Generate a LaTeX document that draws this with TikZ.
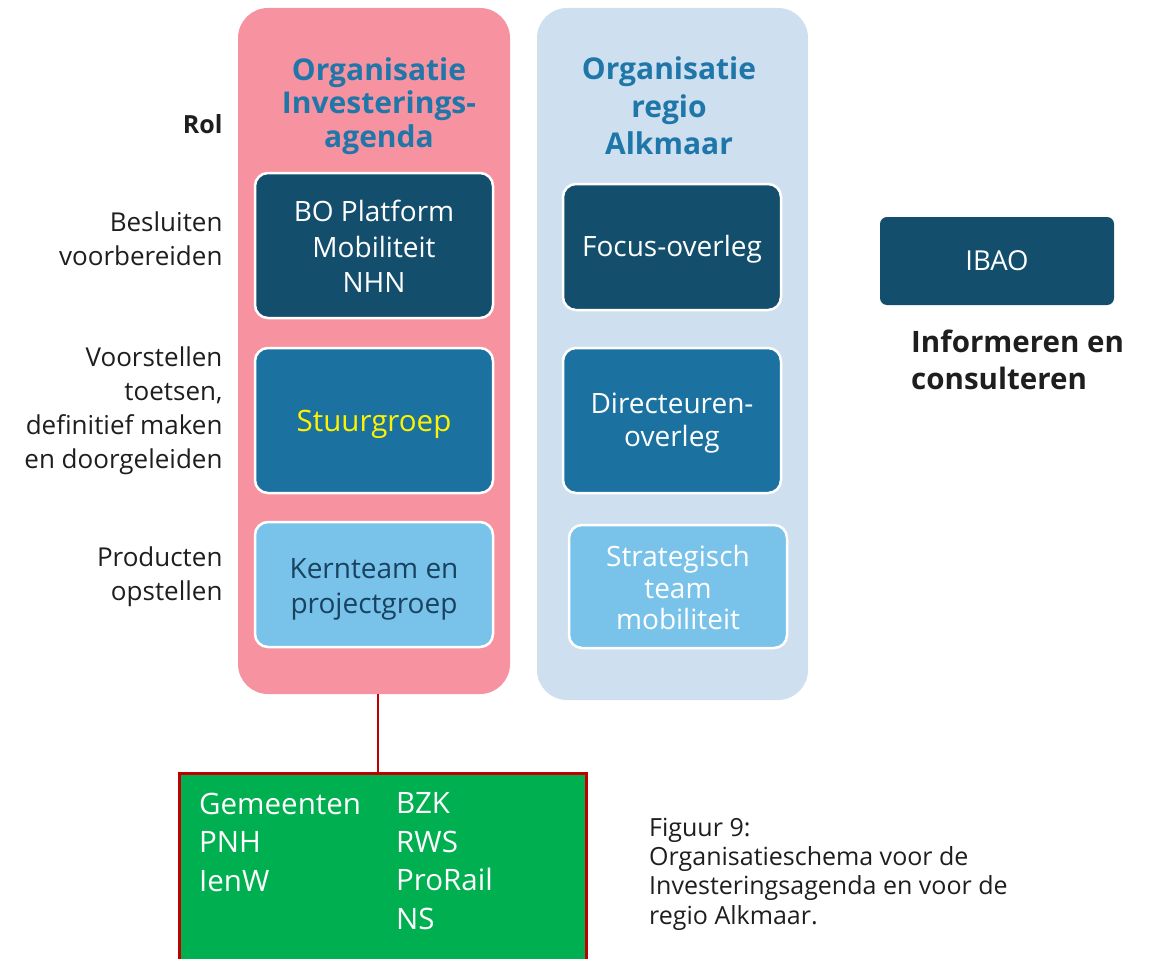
\documentclass[tikz,border=0pt]{standalone}
\usepackage{fontspec}
\setmainfont{Open Sans}
\definecolor{pinkbg}{RGB}{247,147,160}
\definecolor{bluebg}{RGB}{206,223,239}
\definecolor{darkbox}{RGB}{19,79,108}
\definecolor{midbox}{RGB}{27,114,160}
\definecolor{lightbox}{RGB}{121,195,234}
\definecolor{titleblue}{RGB}{31,119,169}
\definecolor{kerntext}{RGB}{24,66,96}
\definecolor{greenbox}{RGB}{0,176,80}
\definecolor{darkred}{RGB}{192,0,0}
\definecolor{textdark}{RGB}{30,30,30}
\tikzset{
  panel/.style={draw=none, rounded corners=30pt, inner sep=0pt},
  orgbox/.style={draw=white, line width=2.5pt, rounded corners=13pt, inner sep=0pt},
  boxtext/.style={align=center, text=white, inner sep=0pt, font=\fontsize{28}{35.5}\selectfont},
  title/.style={text=titleblue, align=center, font=\bfseries\fontsize{30}{33.5}\selectfont},
  rol/.style={anchor=east, align=right, text=textdark, font=\fontsize{26}{34}\selectfont},
}
\begin{document}
\begin{tikzpicture}[x=1pt, y=-1pt]
\useasboundingbox (0,0) rectangle (1150,958);
% panels
\node[panel, fill=pinkbg, minimum width=272pt, minimum height=686pt] (pink) at (374,351) {};
\node[panel, fill=bluebg, minimum width=271pt, minimum height=692pt] (blue) at (672.5,354) {};
% titles
\node[title] (t1) at (379,106) {Organisatie\\Investerings-\\agenda};
\node[title, font=\bfseries\fontsize{30}{37.5}\selectfont] (t2) at (669,106) {Organisatie\\regio\\Alkmaar};
% left column boxes
\node[orgbox, fill=darkbox, minimum width=238pt, minimum height=145pt] (bo) at (374,245.5) {};
\node[boxtext] (bot) at ([yshift=-1pt]bo.center) {BO Platform\\Mobiliteit\\NHN};
\node[orgbox, fill=midbox, minimum width=238pt, minimum height=145pt] (sg) at (374,420.5) {};
\node[boxtext, text=yellow, font=\fontsize{29.5}{35}\selectfont] (sgt) at ([yshift=-4pt]sg.center) {Stuurgroep};
\node[orgbox, fill=lightbox, minimum width=238pt, minimum height=125pt] (kt) at (374,584.5) {};
\node[boxtext, text=kerntext] (ktt) at ([yshift=-5pt]kt.center) {Kernteam en\\projectgroep};
% right column boxes
\node[orgbox, fill=darkbox, minimum width=218pt, minimum height=126pt] (fo) at (672,247) {};
\node[boxtext] (fot) at ([yshift=-2pt]fo.center) {Focus-overleg};
\node[orgbox, fill=midbox, minimum width=218pt, minimum height=145pt] (do) at (672,420.5) {};
\node[boxtext, font=\fontsize{28}{33}\selectfont] (dot) at ([yshift=-3pt]do.center) {Directeuren-\\overleg};
\node[orgbox, fill=lightbox, minimum width=218pt, minimum height=123pt] (st) at (678,586.5) {};
\node[boxtext, font=\fontsize{28}{31.5}\selectfont] (stt) at ([yshift=-1pt]st.center) {Strategisch\\team\\mobiliteit};
% IBAO
\node[draw=none, fill=darkbox, rounded corners=7pt, minimum width=234pt, minimum height=88pt, text=white, font=\fontsize{27.5}{30}\selectfont] (ibao) at (997,261) {IBAO};
\node[anchor=west, align=left, text=textdark, inner sep=0pt, font=\bfseries\fontsize{29.5}{37.5}\selectfont] (inf) at (911,360) {Informeren en\\consulteren};
% role labels
\node[rol, font=\bfseries\fontsize{25}{34}\selectfont] (rol) at (226,124) {Rol};
\node[rol] (r1) at (226,239) {Besluiten\\voorbereiden};
\node[rol] (r2) at (226,411) {Voorstellen\\toetsen,\\definitief maken\\en doorgeleiden};
\node[rol] (r3) at (226,577) {Producten\\opstellen};
% green box
\node[draw=darkred, line width=3pt, fill=greenbox, minimum width=407pt, minimum height=200pt, inner sep=0pt] (green) at (383,873) {};
\node[anchor=west, align=left, text=white, inner sep=0pt, font=\fontsize{29.5}{38.5}\selectfont] (g1) at (199,842) {Gemeenten\\PNH\\IenW};
\node[anchor=west, align=left, text=white, inner sep=0pt, font=\fontsize{29.5}{38.5}\selectfont] (g2) at (396,861) {BZK\\RWS\\ProRail\\NS};
% connector
\coordinate (lx) at (378,0);
\draw[darkred, line width=2.8pt] (pink.south -| lx) -- (green.north -| lx);
% caption
\node[anchor=west, align=left, text=textdark, inner sep=0pt, font=\fontsize{25}{29.3}\selectfont] (cap) at (649,874) {Figuur 9:\\Organisatieschema voor de\\Investeringsagenda en voor de\\regio Alkmaar.};
\end{tikzpicture}
\end{document}
